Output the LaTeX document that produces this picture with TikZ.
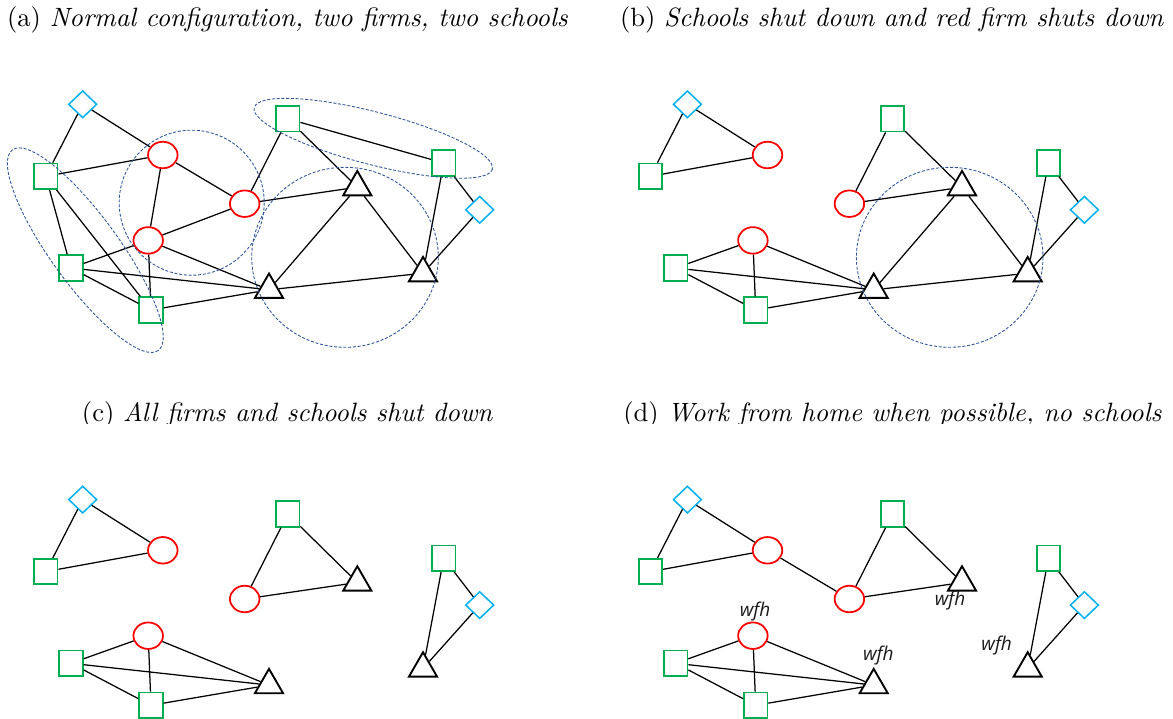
\documentclass[tikz,border=0pt]{standalone}
\usepackage{fontspec}
\newfontfamily\wfhfont{Open Sans}
\usetikzlibrary{shapes.geometric}
\definecolor{firmgreen}{RGB}{0,176,80}
\definecolor{hhred}{RGB}{255,0,0}
\definecolor{schoolblue}{RGB}{0,176,240}
\definecolor{grpblue}{RGB}{47,85,151}
\tikzset{
  sq/.style={draw=firmgreen, line width=0.7pt, rectangle, inner sep=0pt, minimum width=9.4pt, minimum height=10.2pt},
  hh/.style={draw=hhred, line width=0.7pt, ellipse, inner sep=0pt, minimum width=11.8pt, minimum height=10.6pt},
  sch/.style={draw=schoolblue, line width=0.6pt, diamond, inner sep=0pt, minimum width=11.4pt, minimum height=10.9pt},
  tri/.style={draw=black, line width=0.75pt, regular polygon, regular polygon sides=3, inner sep=0pt, minimum size=13pt},
  link/.style={line width=0.5pt},
  grp/.style={draw=grpblue, line width=0.35pt, dash pattern=on 1.2pt off 0.7pt},
  panel/.style={anchor=base, font=\fontsize{10.6}{12}\selectfont},
  wfh/.style={font=\wfhfont\itshape\fontsize{7.6}{8}\selectfont, text=black!90}
}
\begin{document}
\begin{tikzpicture}[x=0.4pt,y=-0.4pt]
    \useasboundingbox (0,0) rectangle (1173,719);
    %% panel titles
    \begin{scope}
        \clip (0,0) rectangle (1173,423);
        \node[panel] (ta) at (287.5,27) {(a) \textit{Normal configuration, two firms, two schools}};
        \node[panel] (tb) at (892,27) {(b) \textit{Schools shut down and red firm shuts down}};
        \node[panel] (tc) at (287.5,421.5) {(c) \textit{All firms and schools shut down}};
        \node[panel] (td) at (892.5,421.5) {(d) \textit{Work from home when possible, no schools}};
    \end{scope}
    %% same people in every panel
    \foreach \p/\dx/\dy in {a/0/0, b/604.7/0, c/0/395.3, d/604.7/395.3}{
        \begin{scope}[shift={(\dx,\dy)}]
            \node[sch] (\p D1) at (82.7,104.3) {};
            \node[sq]  (\p S1) at (45.8,176.3) {};
            \node[hh]  (\p C1) at (162.8,155) {};
            \node[hh]  (\p C2) at (244.7,203.7) {};
            \node[hh]  (\p C3) at (148.2,240.4) {};
            \node[sq]  (\p S2) at (71,268) {};
            \node[sq]  (\p S3) at (151,310) {};
            \node[sq]  (\p S4) at (287.8,118.8) {};
            \node[sq]  (\p S5) at (443.7,163) {};
            \node[sch] (\p D2) at (479.7,209.8) {};
            \node[tri] (\p T1) at (357.3,187.2) {};
            \node[tri] (\p T2) at (269,289.8) {};
            \node[tri] (\p T3) at (423,273.2) {};
        \end{scope}
    }
    %% (a) normal
    \draw[link] (aD1) -- (aS1) (aD1) -- (aC1) (aS1) -- (aC1) (aS1) -- (aS2) (aS1) -- (aS3)
        (aC1) -- (aC3) (aC1) -- (aC2) (aC2) -- (aS4) (aC2) -- (aT1) (aC2) -- (aC3)
        (aC3) -- (aS2) (aC3) -- (aS3) (aC3) -- (aT2) (aS2) -- (aT2) (aS2) -- (aS3) (aS3) -- (aT2)
        (aS4) -- (aT1) (aS4) -- (aS5) (aT1) -- (aT2) (aT1) -- (aT3) (aT2) -- (aT3)
        (aS5) -- (aT3) (aD2) -- (aS5) (aD2) -- (aT3);
    \draw[grp] (85.3,250.2) ellipse [x radius=124, y radius=34, rotate=-54];
    \draw[grp] (191.7,202.7) circle [radius=72.5];
    \draw[grp] (373.3,138.3) ellipse [x radius=123, y radius=26.3, rotate=-14.5];
    \draw[grp] (345,257.3) ellipse [x radius=93.3, y radius=90];
    %% (b) schools and red firm closed
    \draw[link] (bD1) -- (bS1) (bD1) -- (bC1) (bS1) -- (bC1)
        (bS4) -- (bC2) (bS4) -- (bT1) (bC2) -- (bT1)
        (bS5) -- (bT3) (bD2) -- (bS5) (bD2) -- (bT3)
        (bC3) -- (bS2) (bC3) -- (bS3) (bC3) -- (bT2) (bS2) -- (bT2) (bS2) -- (bS3) (bS3) -- (bT2)
        (bT1) -- (bT2) (bT1) -- (bT3) (bT2) -- (bT3);
    \draw[grp] (949.7,257.3) ellipse [x radius=93.3, y radius=90];
    %% (c) everything closed
    \draw[link] (cD1) -- (cS1) (cD1) -- (cC1) (cS1) -- (cC1)
        (cS4) -- (cC2) (cS4) -- (cT1) (cC2) -- (cT1)
        (cS5) -- (cT3) (cD2) -- (cS5) (cD2) -- (cT3)
        (cC3) -- (cS2) (cC3) -- (cS3) (cC3) -- (cT2) (cS2) -- (cT2) (cS2) -- (cS3) (cS3) -- (cT2);
    %% (d) work from home
    \draw[link] (dD1) -- (dS1) (dD1) -- (dC1) (dS1) -- (dC1) (dC1) -- (dC2)
        (dS4) -- (dC2) (dS4) -- (dT1) (dC2) -- (dT1)
        (dS5) -- (dT3) (dD2) -- (dS5) (dD2) -- (dT3)
        (dC3) -- (dS2) (dC3) -- (dS3) (dC3) -- (dT2) (dS2) -- (dT2) (dS2) -- (dS3) (dS3) -- (dT2);
    \node[wfh] (wT1) at (950,601) {wfh};
    \node[wfh] (wC3) at (755,611.7) {wfh};
    \node[wfh] (wT2) at (878.3,655.7) {wfh};
    \node[wfh] (wT3) at (996.7,646) {wfh};
\end{tikzpicture}
\end{document}
